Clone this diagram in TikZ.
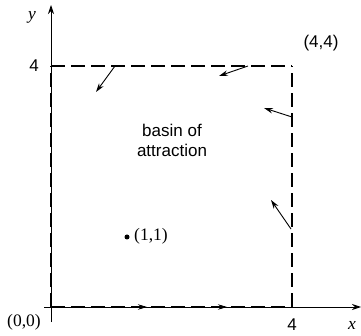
\documentclass[tikz,border=0pt]{standalone}
\usepackage{fontspec}
\setmainfont{Liberation Serif}
\setsansfont{Liberation Sans}
\usetikzlibrary{arrows.meta}
\tikzset{
  axis/.style={line width=0.9pt,-{Stealth[length=9pt,width=6pt,inset=3pt]}},
  bound/.style={line width=2pt,dash pattern=on 14pt off 6pt},
  flow/.style={line width=0.9pt,-{Stealth[length=9pt,width=5.5pt,inset=3pt]}},
  sanslab/.style={font=\sffamily\fontsize{17}{20}\selectfont,inner sep=0pt},
  seriflab/.style={font=\fontsize{17.5}{20}\selectfont,inner sep=0pt},
}
\begin{document}
\begin{tikzpicture}[x=1pt,y=-1pt]
\useasboundingbox (0,0) rectangle (361,336);
% key points
\coordinate (O) at (51,307);
\coordinate (X4) at (292,307);
\coordinate (Y4) at (51,66);
\coordinate (C) at (292,66);
\coordinate (xs) at (44,307);
\coordinate (xe) at (361,307);
\coordinate (ys) at (51,322);
\coordinate (ye) at (51,5);
% axes
\draw[axis] (xs) -- (xe);
\draw[axis] (ys) -- (ye);
% boundary of basin
\draw[bound,line width=1.6pt] (O) -- (X4);
\draw[bound] (O) -- (Y4);
\draw[bound] (Y4) -- (C);
\draw[bound,line width=2.4pt] (X4) -- (C);
% flow arrows
\coordinate (a1s) at (115,66);  \coordinate (a1e) at (96,92);
\coordinate (a2s) at (248,66);  \coordinate (a2e) at (219,76);
\coordinate (a3s) at (292,117); \coordinate (a3e) at (264,108);
\coordinate (a4s) at (291,229); \coordinate (a4e) at (271,200);
\coordinate (b1s) at (126,307); \coordinate (b1e) at (147,307);
\coordinate (b2s) at (206,307); \coordinate (b2e) at (227,307);
\draw[flow] (a1s) -- (a1e);
\draw[flow] (a2s) -- (a2e);
\draw[flow] (a3s) -- (a3e);
\draw[flow] (a4s) -- (a4e);
\draw[flow] (b1s) -- (b1e);
\draw[flow] (b2s) -- (b2e);
% labels
\node[seriflab] (ylab) at (32,17) {\itshape y};
\node[seriflab] (xlab) at (352,325) {\itshape x};
\node[sanslab] (l4y) at (34,66) {4};
\node[sanslab] (l4x) at (292,325) {4};
\node[sanslab] (l44) at (321,43) {(4,4)};
\node[seriflab] (l00) at (24,322) {(0,0)};
\node[sanslab,align=center] (basin) at (172,140) {basin of\\attraction};
\fill (127,237) circle (2.5);
\node[seriflab,anchor=west] (l11) at (134,236) {(1,1)};
\end{tikzpicture}
\end{document}
